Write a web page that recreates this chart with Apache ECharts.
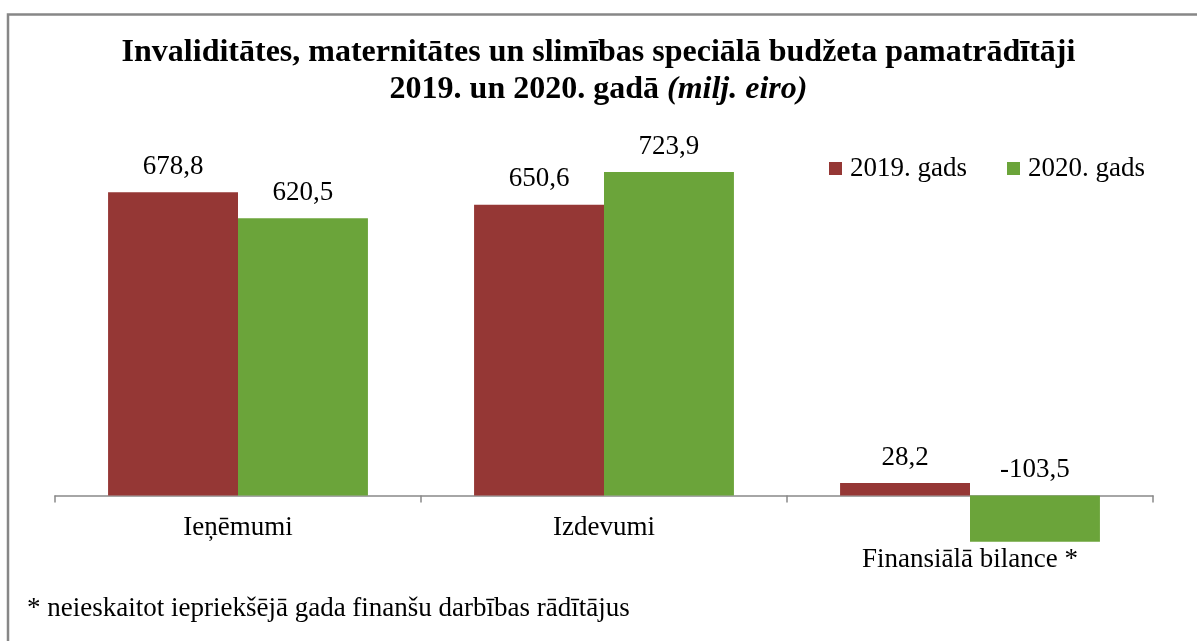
<!DOCTYPE html>
<html>
<head>
<meta charset="utf-8">
<script src="https://cdn.jsdelivr.net/npm/echarts@6/dist/echarts.min.js"></script>
<style>
  html, body { margin: 0; padding: 0; background: #fff; }
  #main { width: 1197px; height: 641px; }
</style>
</head>
<body>
<div id="main"></div>
<script>
// dati (milj. eiro)
var categories = ['Ieņēmumi', 'Izdevumi', 'Finansiālā bilance *'];
var seriesNames = ['2019. gads', '2020. gads'];
var values2019 = [678.8, 650.6, 28.2];
var values2020 = [620.5, 723.9, -103.5];

var FONT = '"Liberation Serif", "Times New Roman", serif';

var myChart = echarts.init(document.getElementById('main'));

// skaitli ar komatu
function fmtComma(p) {
	return String(p.value.toFixed(1)).replace('.', ',');
}

var labelStyle = {
	show: true,
	position: 'top',
	distance: 12,
	color: '#000',
	fontFamily: FONT,
	fontSize: 27,
	formatter: fmtComma
};

var option = {
	animation: false,
	color: ['#953735', '#6ba43a'],
	title: {
		left: 'center',
		top: 29,
		text: '{a|Invaliditātes, maternitātes un slimības speciālā budžeta pamatrādītāji}\n{a|2019. un 2020. gadā }{i|(milj. eiro)}',
		textStyle: {
			rich: {
				a: { fontFamily: FONT, fontSize: 32, fontWeight: 'bold', color: '#000', lineHeight: 37 },
				i: { fontFamily: FONT, fontSize: 32, fontWeight: 'bold', fontStyle: 'italic', color: '#000', lineHeight: 37 }
			}
		}
	},
	legend: {
		left: 824,
		top: 150,
		itemWidth: 13,
		itemHeight: 13,
		itemGap: 40,
		icon: 'rect',
		textStyle: { fontFamily: FONT, fontSize: 27, color: '#000', padding: [0, 0, 0, 3] },
		data: seriesNames
	},
	grid: {
		left: 55,
		right: 44,
		top: 138,
		height: 447,
		outerBoundsMode: 'none'
	},
	xAxis: [{
		type: 'category',
		data: categories,
		axisLine: { onZero: true, lineStyle: { color: '#898989', width: 1.5 } },
		axisTick: { show: true, length: 7, lineStyle: { color: '#898989', width: 1.5 } },
		axisLabel: {
			// etiķetes tiek liktas no režģa apakšas, tāpēc negatīva atkāpe
			margin: -71,
			color: '#000',
			fontFamily: FONT,
			fontSize: 27,
			formatter: function (v, i) {
				if (i == 2) {
					return '{far|' + v + '}';
				}
				return v;
			},
			rich: {
				far: { fontFamily: FONT, fontSize: 27, color: '#000', padding: [32, 0, 0, 0] }
			}
		}
	}],
	yAxis: [{
		type: 'value',
		min: -200,
		max: 800,
		show: false,
		splitLine: { show: false }
	}],
	series: [
		{
			name: seriesNames[0],
			type: 'bar',
			barGap: 0,
			barCategoryGap: '29%',
			label: labelStyle,
			data: values2019
		},
		{
			name: seriesNames[1],
			type: 'bar',
			barGap: 0,
			barCategoryGap: '29%',
			label: labelStyle,
			data: values2020
		}
	],
	graphic: [
		{
			type: 'rect',
			shape: { x: 8, y: 14.5, width: 1300, height: 700 },
			style: { fill: 'none', stroke: '#878787', lineWidth: 2.5 },
			silent: true
		},
		{
			type: 'text',
			left: 27,
			top: 595,
			style: {
				text: '* neieskaitot iepriekšējā gada finanšu darbības rādītājus',
				fontFamily: FONT,
				fontSize: 27,
				fill: '#000'
			}
		}
	]
};

myChart.setOption(option);
</script>
</body>
</html>
